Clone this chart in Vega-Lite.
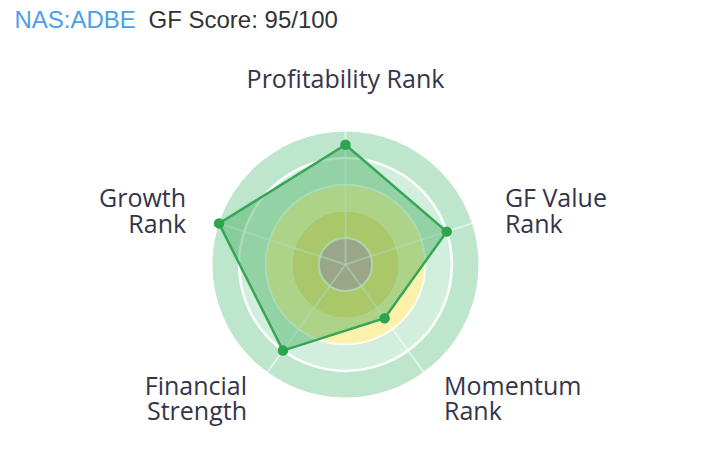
{
  "$schema": "https://vega.github.io/schema/vega-lite/v6.json",
  "width": 266,
  "height": 266,
  "autosize": {"type": "none"},
  "padding": {"left": 212.5, "top": 131.5, "right": 225.5, "bottom": 63.5},
  "background": "white",
  "config": {"view": {"stroke": null}},
  "datasets": {
    "ranks": [
      {"rank": "Profitability Rank", "label": "Profitability Rank", "value": 9},
      {"rank": "GF Value Rank", "label": "GF Value\nRank", "value": 8},
      {"rank": "Momentum Rank", "label": "Momentum\nRank", "value": 5},
      {"rank": "Financial Strength", "label": "Financial\nStrength", "value": 8},
      {"rank": "Growth Rank", "label": "Growth\nRank", "value": 10}
    ],
    "bands": [
      {"band": "0-2", "lo": 0, "hi": 2},
      {"band": "2-4", "lo": 2, "hi": 4},
      {"band": "4-6", "lo": 4, "hi": 6},
      {"band": "6-8", "lo": 6, "hi": 8},
      {"band": "8-10", "lo": 8, "hi": 10}
    ],
    "rings": [{"r": 2}, {"r": 4}, {"r": 6}, {"r": 8}]
  },
  "layer": [
    {
      "data": {"name": "bands"},
      "mark": {"type": "arc", "theta": 0, "theta2": 6.2832},
      "encoding": {
        "radius": {"field": "hi", "type": "quantitative", "scale": {"type": "linear", "domain": [0, 10], "range": [0, 133], "zero": true}},
        "radius2": {"field": "lo"},
        "color": {
          "field": "band",
          "type": "nominal",
          "scale": {"domain": ["0-2", "2-4", "4-6", "6-8", "8-10"], "range": ["#e0a3aa", "#f9dd78", "#fcf0aa", "#d2eedc", "#bee6cd"]},
          "legend": null
        }
      }
    },
    {
      "data": {"name": "rings"},
      "transform": [{"filter": "datum.r < 8"}],
      "mark": {"type": "arc", "theta": 0, "theta2": 6.2832, "filled": false, "stroke": "white", "strokeWidth": 2, "strokeOpacity": 0.5},
      "encoding": {
        "radius": {"field": "r", "type": "quantitative", "scale": {"type": "linear", "domain": [0, 10], "range": [0, 133], "zero": true}}
      }
    },
    {
      "data": {"name": "rings"},
      "transform": [{"filter": "datum.r == 8"}],
      "mark": {"type": "arc", "theta": 0, "theta2": 6.2832, "filled": false, "stroke": "white", "strokeWidth": 2.5, "strokeOpacity": 0.95},
      "encoding": {
        "radius": {"field": "r", "type": "quantitative", "scale": {"type": "linear", "domain": [0, 10], "range": [0, 133], "zero": true}}
      }
    },
    {
      "data": {"name": "ranks"},
      "transform": [
        {"window": [{"op": "row_number", "as": "idx"}]},
        {"calculate": "PI / 2 - (datum.idx - 1) * 2 * PI / 5", "as": "angle"},
        {"calculate": "datum.value * cos(datum.angle)", "as": "px"},
        {"calculate": "datum.value * sin(datum.angle)", "as": "py"},
        {"calculate": "10.3 * cos(datum.angle)", "as": "sx"},
        {"calculate": "10.3 * sin(datum.angle)", "as": "sy"},
        {"calculate": "12.6 * cos(datum.angle)", "as": "lx"},
        {"calculate": "12.6 * sin(datum.angle)", "as": "ly"}
      ],
      "layer": [
        {
          "mark": {"type": "rule", "stroke": "white", "strokeWidth": 2, "strokeOpacity": 0.5},
          "encoding": {
            "x": {
              "field": "sx",
              "type": "quantitative",
              "scale": {"domain": [-10, 10], "nice": false, "zero": false},
              "axis": {
                "orient": "top",
                "domain": false,
                "ticks": false,
                "labels": false,
                "grid": false,
                "title": "GF Score: 95/100",
                "titleFont": "Liberation Sans",
                "titleFontSize": 24,
                "titleFontWeight": "normal",
                "titleColor": "#333333",
                "titleAlign": "left",
                "titleBaseline": "alphabetic",
                "titleX": -64.5,
                "titleY": -104.5
              }
            },
            "y": {
              "field": "sy",
              "type": "quantitative",
              "scale": {"domain": [-10, 10], "nice": false, "zero": false},
              "axis": {
                "orient": "left",
                "domain": false,
                "ticks": false,
                "labels": false,
                "grid": false,
                "title": "NAS:ADBE",
                "titleFont": "Liberation Sans",
                "titleFontSize": 24,
                "titleFontWeight": "normal",
                "titleColor": "#4a9fe8",
                "titleAngle": 0,
                "titleAlign": "left",
                "titleBaseline": "alphabetic",
                "titleX": -198.5,
                "titleY": -104.5
              }
            },
            "x2": {"datum": 0},
            "y2": {"datum": 0}
          }
        },
        {
          "mark": {"type": "line", "interpolate": "linear-closed", "fill": "#34a853", "fillOpacity": 0.4, "stroke": "#36a656", "strokeWidth": 2.5},
          "encoding": {
            "x": {"field": "px", "type": "quantitative"},
            "y": {"field": "py", "type": "quantitative"},
            "order": {"field": "idx", "type": "quantitative"}
          }
        },
        {
          "mark": {"type": "circle", "size": 110, "color": "#2ea44f", "opacity": 1},
          "encoding": {
            "x": {"field": "px", "type": "quantitative"},
            "y": {"field": "py", "type": "quantitative"}
          }
        },
        {
          "transform": [{"filter": "datum.idx == 1"}],
          "mark": {"type": "text", "align": "center", "baseline": "alphabetic", "dy": -9, "font": "Open Sans", "fontSize": 25, "color": "#34354a"},
          "encoding": {
            "x": {"field": "lx", "type": "quantitative"},
            "y": {"field": "ly", "type": "quantitative"},
            "text": {"field": "label"}
          }
        },
        {
          "transform": [{"filter": "datum.idx == 2 || datum.idx == 3"}],
          "mark": {"type": "text", "align": "left", "baseline": "middle", "dy": -13.5, "lineBreak": "\n", "lineHeight": 25.5, "font": "Open Sans", "fontSize": 25, "color": "#34354a"},
          "encoding": {
            "x": {"field": "lx", "type": "quantitative"},
            "y": {"field": "ly", "type": "quantitative"},
            "text": {"field": "label"}
          }
        },
        {
          "transform": [{"filter": "datum.idx == 4 || datum.idx == 5"}],
          "mark": {"type": "text", "align": "right", "baseline": "middle", "dy": -13.5, "lineBreak": "\n", "lineHeight": 25.5, "font": "Open Sans", "fontSize": 25, "color": "#34354a"},
          "encoding": {
            "x": {"field": "lx", "type": "quantitative"},
            "y": {"field": "ly", "type": "quantitative"},
            "text": {"field": "label"}
          }
        }
      ]
    }
  ]
}
